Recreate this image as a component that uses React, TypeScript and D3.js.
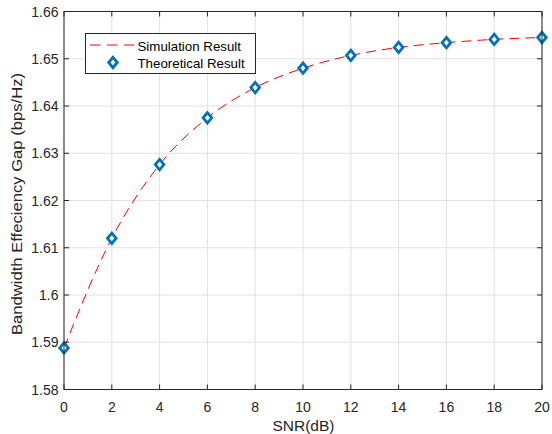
import React from "react";
import * as d3 from "d3";

const snr = [0, 2, 4, 6, 8, 10, 12, 14, 16, 18, 20];
const simulation = [1.5888, 1.612, 1.6276, 1.6375, 1.6439, 1.648, 1.6507, 1.6524, 1.6534, 1.6541, 1.6545];
const theoretical = [1.5888, 1.612, 1.6276, 1.6375, 1.6439, 1.648, 1.6507, 1.6524, 1.6534, 1.6541, 1.6545];
const xTicks = [0, 2, 4, 6, 8, 10, 12, 14, 16, 18, 20];
const yTicks = [1.58, 1.59, 1.6, 1.61, 1.62, 1.63, 1.64, 1.65, 1.66];

const W = 552, H = 434;
const L = 64, R = 542, T = 11.5, B = 389.5;
const font = "'Liberation Sans', Arial, sans-serif";
const axisColor = "#262626";

export default function App() {
  const x = d3.scaleLinear().domain([0, 20]).range([L, R]);
  const y = d3.scaleLinear().domain([1.58, 1.66]).range([B, T]);
  const line = d3
    .line<number>()
    .x((_, i) => x(snr[i]))
    .y((d) => y(d))
    .curve(d3.curveMonotoneX);
  const diamond = (cx: number, cy: number) =>
    `M${cx},${cy - 5.2} L${cx + 4.3},${cy} L${cx},${cy + 5.2} L${cx - 4.3},${cy} Z`;

  return (
    <svg width={W} height={H} style={{ position: "absolute", left: 0, top: 0, background: "#fff" }}>
      <rect x={0} y={0} width={W} height={H} fill="#fff" />
      {xTicks.map((t) => (
        <line key={"gx" + t} x1={x(t)} x2={x(t)} y1={T} y2={B} stroke="#e2e2e2" strokeWidth={1} />
      ))}
      {yTicks.map((t) => (
        <line key={"gy" + t} x1={L} x2={R} y1={y(t)} y2={y(t)} stroke="#e2e2e2" strokeWidth={1} />
      ))}
      <path d={line(simulation) || ""} fill="none" stroke="#ff0000" strokeWidth={1} strokeDasharray="10,6" />
      {theoretical.map((v, i) => (
        <path key={"m" + i} d={diamond(x(snr[i]), y(v))} fill="#fff" stroke="#0072BD" strokeWidth={2.8} />
      ))}
      <rect x={L} y={T} width={R - L} height={B - T} fill="none" stroke={axisColor} strokeWidth={1} />
      {xTicks.map((t) => (
        <g key={"tx" + t}>
          <line x1={x(t)} x2={x(t)} y1={B} y2={B - 5} stroke={axisColor} />
          <line x1={x(t)} x2={x(t)} y1={T} y2={T + 5} stroke={axisColor} />
          <text x={x(t)} y={411.5} textAnchor="middle" fontFamily={font} fontSize={14} fill={axisColor}>
            {t}
          </text>
        </g>
      ))}
      {yTicks.map((t) => (
        <g key={"ty" + t}>
          <line x1={L} x2={L + 5} y1={y(t)} y2={y(t)} stroke={axisColor} />
          <line x1={R} x2={R - 5} y1={y(t)} y2={y(t)} stroke={axisColor} />
          <text x={58.5} y={y(t) + 5} textAnchor="end" fontFamily={font} fontSize={14} fill={axisColor}>
            {String(t)}
          </text>
        </g>
      ))}
      <text x={(L + R) / 2 + 0.5} y={431} textAnchor="middle" fontFamily={font} fontSize={15.5} fill={axisColor}>
        SNR(dB)
      </text>
      <text
        transform={`translate(21.5,204) rotate(-90)`}
        textAnchor="middle"
        fontFamily={font}
        fontSize={15.5}
        fill={axisColor}
        textLength={262}
        lengthAdjust="spacingAndGlyphs"
      >
        Bandwidth Effeciency Gap (bps/Hz)
      </text>
      <g>
        <rect x={85.5} y={33.5} width={170} height={40} fill="#fff" stroke={axisColor} strokeWidth={1} />
        <line x1={90} x2={134} y1={45} y2={45} stroke="#ff0000" strokeWidth={1} strokeDasharray="10.5,6.5" />
        <text x={137.5} y={50.5} fontFamily={font} fontSize={13.3} fill="#000">
          Simulation Result
        </text>
        <path d={diamond(113, 62.5)} fill="#fff" stroke="#0072BD" strokeWidth={2.8} />
        <text x={137.5} y={68} fontFamily={font} fontSize={13.3} fill="#000">
          Theoretical Result
        </text>
      </g>
    </svg>
  );
}
